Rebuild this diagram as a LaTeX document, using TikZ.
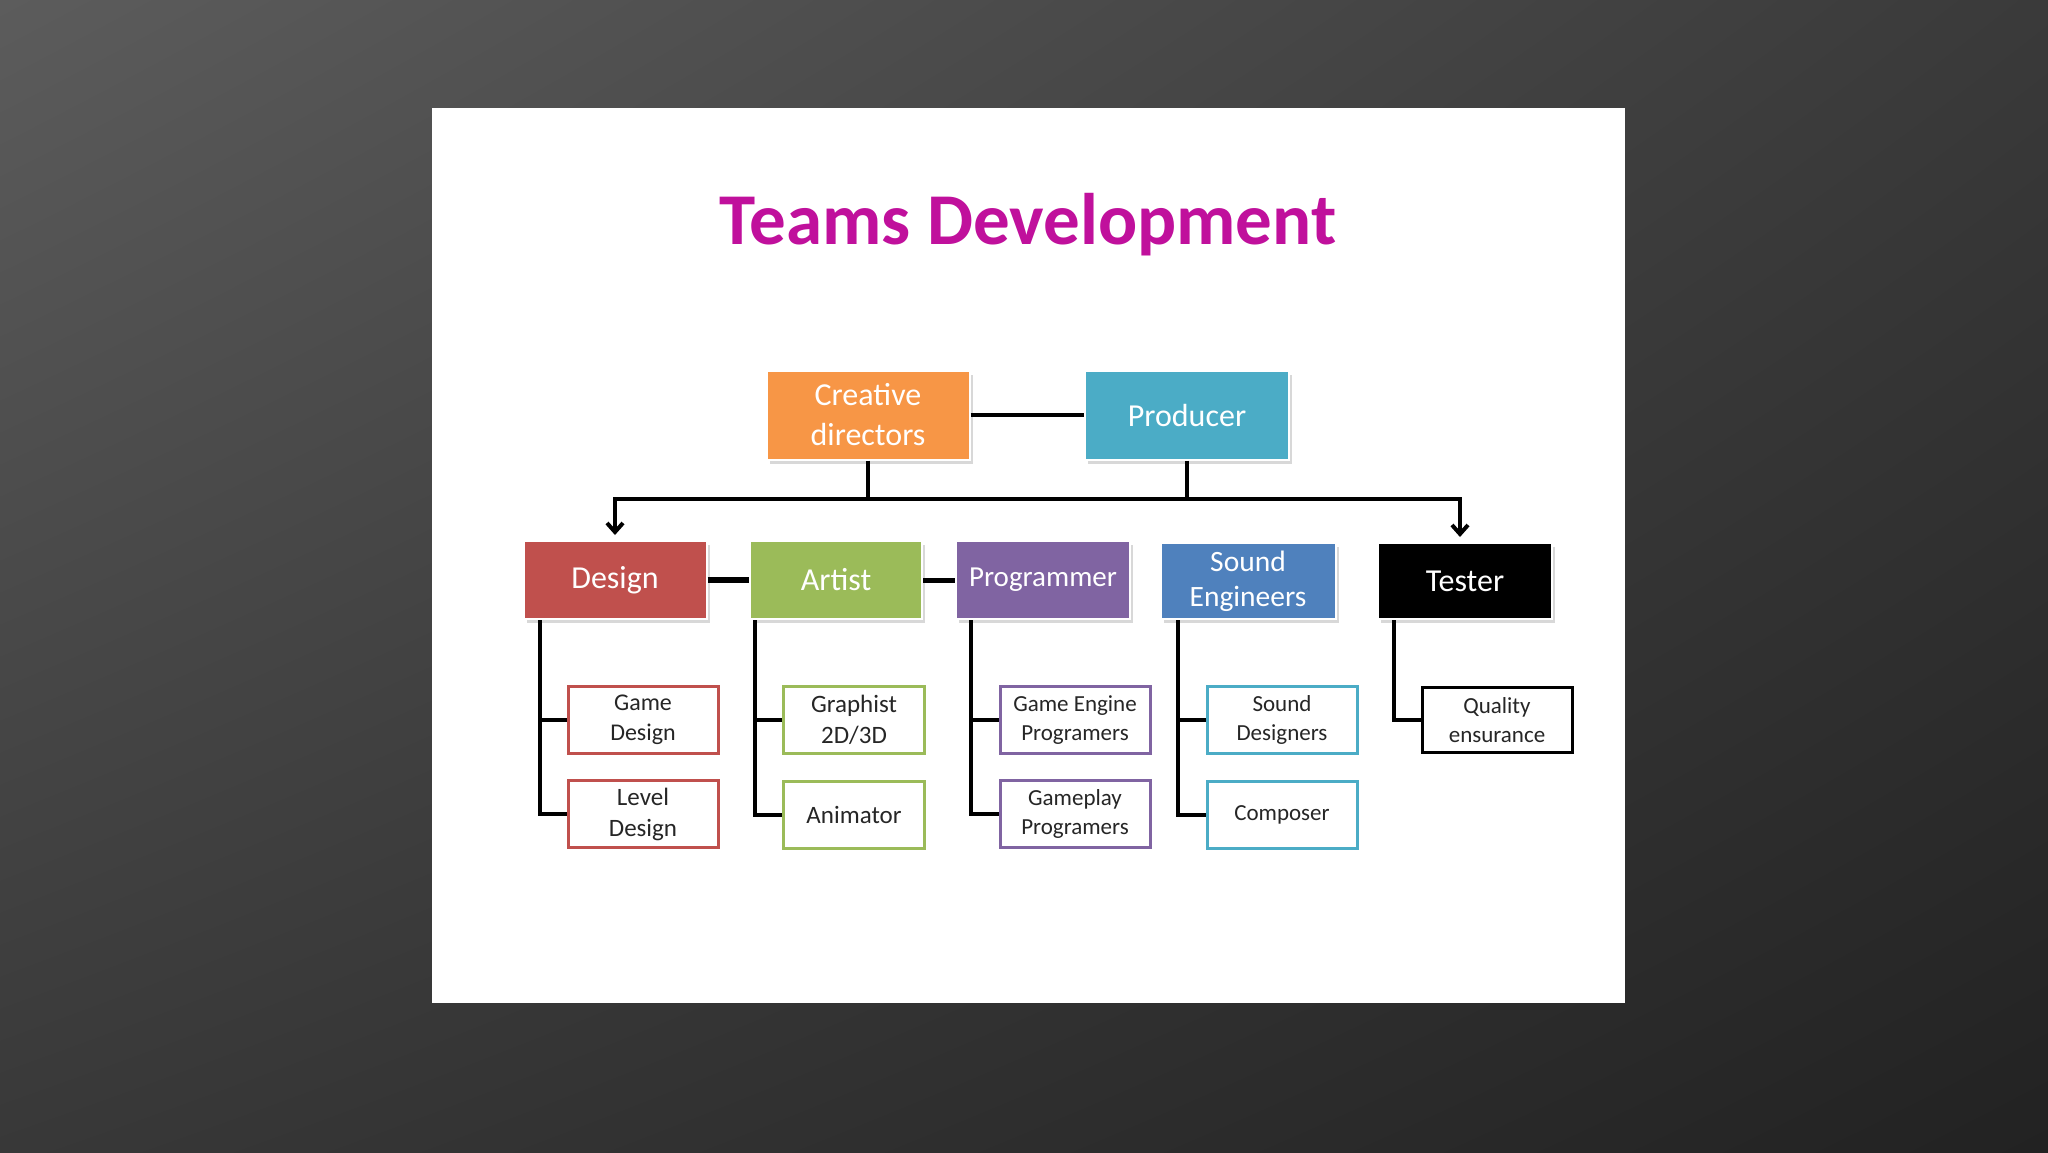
\documentclass[tikz,border=0pt]{standalone}
\usepackage{fontspec}
\setmainfont{Carlito}
\usetikzlibrary{arrows.meta,shadows,calc,shadings}
\definecolor{cOrange}{HTML}{F79646}
\definecolor{cTeal}{HTML}{4BACC6}
\definecolor{cRed}{HTML}{C0504D}
\definecolor{cGreen}{HTML}{9BBB59}
\definecolor{cPurple}{HTML}{8064A2}
\definecolor{cBlue}{HTML}{4F81BD}
\definecolor{cTitle}{HTML}{C0109C}
\definecolor{bgUL}{HTML}{5C5C5C}
\definecolor{bgUR}{HTML}{3A3A3A}
\definecolor{bgLL}{HTML}{383838}
\definecolor{bgLR}{HTML}{222222}
\tikzset{
  topbox/.style={rectangle, draw=white, line width=2pt, inner sep=0pt, align=center, text=white,
    drop shadow={shadow xshift=3pt, shadow yshift=-4pt, fill=black!30, opacity=0.5},
    font=\fontsize{32}{40}\selectfont},
  childbox/.style={rectangle, draw=#1, line width=3pt, fill=white, inner sep=0pt, align=center,
    minimum width=150pt, minimum height=67pt, text=black!85, font=\fontsize{23}{29}\selectfont},
  conn/.style={line width=4pt, black},
  barb/.style={line width=4pt, black, {Straight Barb[length=9pt,width=16pt]}-{Straight Barb[length=9pt,width=16pt]}, shorten <=5pt, shorten >=5pt}
}
\begin{document}
\begin{tikzpicture}[x=1pt,y=-1pt]
\useasboundingbox (0,0) rectangle (2048,1152);
\shade[upper left=bgUL, upper right=bgUR, lower left=bgLL, lower right=bgLR]
  (0,0) rectangle (2048,1152);
\fill[white] (432,108) rectangle (1625,1003);

\node[text=cTitle, font=\fontsize{73}{80}\selectfont\bfseries] (title) at (1028,225) {Teams Development};

% top level
\node[topbox, fill=cOrange, minimum width=203pt, minimum height=89pt] (cd) at (868,415) {Creative\\directors};
\node[topbox, fill=cTeal, minimum width=204pt, minimum height=89pt] (prod) at (1187,415) {Producer};

% second level
\node[topbox, fill=cRed, minimum width=183pt, minimum height=78pt] (design) at (615,580) {Design};
\node[topbox, fill=cGreen, minimum width=172pt, minimum height=78pt] (artist) at (836,580) {Artist};
\node[topbox, fill=cPurple, minimum width=174pt, minimum height=78pt, font=\fontsize{29}{36}\selectfont] (prog) at (1043,580) {Programmer};
\node[topbox, fill=cBlue, minimum width=175pt, minimum height=76pt, font=\fontsize{29.5}{35}\selectfont] (sound) at (1248,581) {Sound\\Engineers};
\node[topbox, fill=black, minimum width=174pt, minimum height=76pt] (tester) at (1465,581) {Tester};

% children
\node[childbox=cRed, font=\fontsize{24}{30}\selectfont] (gd) at (643,720) {Game\\Design};
\node[childbox=cRed, font=\fontsize{25}{31}\selectfont] (ld) at (643,814) {Level\\Design};
\node[childbox=cGreen, minimum width=141pt, font=\fontsize{25}{31}\selectfont] (gr) at (854,720) {Graphist\\2D/3D};
\node[childbox=cGreen, minimum width=141pt, font=\fontsize{25}{31}\selectfont] (an) at (854,815) {Animator};
\node[childbox=cPurple] (gep) at (1075,720) {Game Engine\\Programers};
\node[childbox=cPurple] (gpp) at (1075,814) {Gameplay\\Programers};
\node[childbox=cTeal] (sd) at (1282,720) {Sound\\Designers};
\node[childbox=cTeal] (comp) at (1282,815) {Composer};
\node[childbox=black, minimum height=65pt] (qa) at (1497,720) {Quality\\ensurance};

% connectors top
\draw[conn] (cd.east) -- (prod.west);
\coordinate (bus) at (0,499);
\draw[conn] (cd.south) -- (cd.south |- bus);
\draw[conn] (prod.south) -- (prod.south |- bus);
\draw[barb] (design.north) -- (design.north |- bus) -- ($(tester.north |- bus)+(-5,0)$) -- ($(tester.north)+(-5,0)$);

\draw[line width=6pt] (design.east) -- (artist.west);
\draw[line width=5pt] (artist.east) -- (prog.west);

% drops
\path (design.south west) ++(17,0) coordinate (dd);
\path (artist.south west) ++(6,0) coordinate (ad);
\path (prog.south west) ++(16,0) coordinate (pd);
\path (sound.south west) ++(18,0) coordinate (sdr);
\path (tester.south west) ++(17,0) coordinate (td);

\draw[conn] (dd) |- (gd.west);
\draw[conn] (dd) |- (ld.west);
\draw[conn] (ad) |- (gr.west);
\draw[conn] (ad) |- (an.west);
\draw[conn] (pd) |- (gep.west);
\draw[conn] (pd) |- (gpp.west);
\draw[conn] (sdr) |- (sd.west);
\draw[conn] (sdr) |- (comp.west);
\draw[conn] (td) |- (qa.west);
\end{tikzpicture}
\end{document}
